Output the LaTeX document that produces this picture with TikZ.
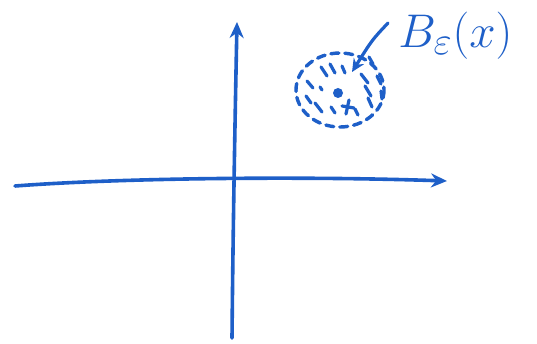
\documentclass[tikz,border=0pt]{standalone}
\usetikzlibrary{arrows.meta,shapes.geometric}
\definecolor{pen}{RGB}{30,95,200}
\begin{document}
\begin{tikzpicture}[x=1pt,y=-1pt,
  pline/.style={draw=pen,line width=3.6pt,line cap=round},
  axis/.style={pline,-{Stealth[length=16pt,width=14pt]}},
  ring/.style={draw=pen,line width=3.4pt,dash pattern=on 8pt off 6pt,line cap=round},
  hatch/.style={draw=pen,line width=3.2pt,line cap=round}]
\useasboundingbox (0,0) rectangle (537,344);
\fill[white] (0,0) rectangle (537,344);
% axes
\coordinate (xs) at (15,186);
\coordinate (xe) at (447,181);
\coordinate (ys) at (232,338);
\coordinate (ye) at (237,22);
\draw[axis] (xs) .. controls (120,178) and (300,176) .. (xe);
\draw[axis] (ys) .. controls (233,230) and (235,120) .. (ye);
% ball
\node[ellipse,minimum width=92pt,minimum height=78pt,inner sep=0pt] (ball) at (340,90) {};
\draw[ring] (ball.center) ellipse [x radius=44, y radius=37];
\foreach \a/\b in {
  {(321,67)/(327,76)},{(330,64)/(335,73)},{(342,66)/(345,73)},
  {(361,74)/(368,83)},{(365,86)/(371,96)},{(368,98)/(372,107)},
  {(369,57)/(373,64)},{(377,76)/(381,84)},{(381,91)/(382,99)},
  {(307,81)/(313,88)},{(306,96)/(311,103)},{(315,103)/(322,112)},
  {(320,87)/(322,90)},{(355,109)/(358,115)},{(331,107)/(335,113)}}{
  \draw[hatch] \a -- \b;}
\fill[pen] (338,93) circle (5);
\coordinate (xpt) at (348,107);
\draw[hatch] ([shift={(-6,-1)}]xpt) -- ([shift={(6,1)}]xpt);
\draw[hatch] ([shift={(1,-7)}]xpt) -- ([shift={(-2,7)}]xpt);
% label
\node[text=pen,inner sep=0pt,anchor=west,scale=1.9] (lab) at (398,36) {\Huge $B_\varepsilon(x)$};
\coordinate (tail) at (388,23);
\coordinate (tip) at (352,72);
\draw[pline,line width=3.2pt,-{Stealth[length=13pt,width=12pt]}] (tail) .. controls (372,40) .. (tip);
\end{tikzpicture}
\end{document}
